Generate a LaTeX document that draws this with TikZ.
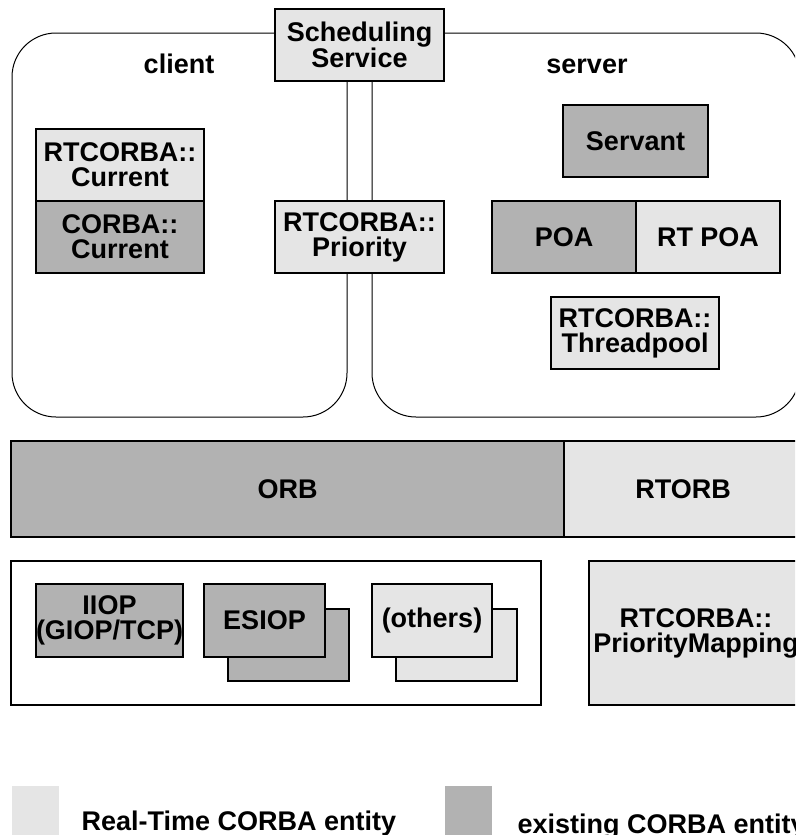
\documentclass[tikz,border=0pt]{standalone}
\usepackage{fontspec}
\setmainfont{Liberation Sans}
\usepackage{tikz}
\usetikzlibrary{positioning}
\definecolor{rtgray}{gray}{0.9}
\definecolor{oldgray}{gray}{0.7}
\newcommand{\boxfont}{\fontsize{27}{25}\selectfont\bfseries}
\tikzset{
  rtbox/.style={draw, line width=2pt, fill=rtgray, align=center, inner sep=0pt, outer sep=0pt, anchor=north west, font=\boxfont},
  oldbox/.style={rtbox, fill=oldgray},
  plainbox/.style={rtbox, fill=white},
  zone/.style={draw, line width=1pt, rounded corners=44pt},
  lbl/.style={font=\boxfont, anchor=base},
  keybox/.style={inner sep=0pt, outer sep=0pt, anchor=north west, minimum width=47pt, minimum height=60pt},
}

\begin{document}
\begin{tikzpicture}[x=1pt,y=-1pt]
\useasboundingbox (0,0) rectangle (795,835);
\clip (0,0) rectangle (795,835);
\draw[zone] (12,33) rectangle (347,417);
\draw[zone] (372,33) rectangle (800,417);
\node[lbl] (client) at (179,73) {client};
\node[lbl] (server) at (587,73) {server};
\node[rtbox, minimum width=169pt, minimum height=72pt] (sched) at (275,9) {Scheduling\\Service};
\node[rtbox, minimum width=169pt, minimum height=72pt] (prio) at (275,201) {RTCORBA::\\Priority};
\node[rtbox, minimum width=168pt, minimum height=72pt] (rtcur) at (36,129) {RTCORBA::\\Current};
\node[oldbox, minimum width=168pt, minimum height=72pt, below=0pt of rtcur] (corbacur) {CORBA::\\Current};
\node[oldbox, minimum width=145pt, minimum height=72pt] (servant) at (563,105) {Servant};
\node[oldbox, minimum width=144pt, minimum height=72pt] (poa) at (492,201) {POA};
\node[rtbox, minimum width=144pt, minimum height=72pt, right=0pt of poa] (rtpoa) {RT POA};
\node[rtbox, minimum width=168pt, minimum height=72pt] (tpool) at (551,297) {RTCORBA::\\Threadpool};
\node[oldbox, minimum width=553pt, minimum height=96pt] (orb) at (11,441) {ORB};
\node[rtbox, minimum width=238pt, minimum height=96pt, right=0pt of orb] (rtorb) {RTORB};
\node[plainbox, minimum width=530pt, minimum height=144pt] (transport) at (11,561) {};
\node[oldbox, minimum width=144pt, minimum height=73pt] (iiop) at (36,584) {IIOP\\(GIOP/TCP)};
\node[oldbox, minimum width=121pt, minimum height=72pt] (esiopback) at (228,609) {};
\node[oldbox, minimum width=121pt, minimum height=73pt] (esiop) at (204,584) {ESIOP};
\node[rtbox, minimum width=121pt, minimum height=72pt] (othersback) at (396,609) {};
\node[rtbox, minimum width=120pt, minimum height=73pt] (others) at (372,584) {(others)};
\node[rtbox, minimum width=214pt, minimum height=144pt] (pmap) at (589,561) {RTCORBA::\\PriorityMapping};
\node[keybox, fill=rtgray] (rtkey) at (12,786) {};
\node[lbl, anchor=base west] (rtkeytext) at (78,830) {Real-Time CORBA entity};
\node[keybox, fill=oldgray] (oldkey) at (445,786) {};
\node[lbl, anchor=base west] (oldkeytext) at (514,833) {existing CORBA entity};
\end{tikzpicture}
\end{document}
